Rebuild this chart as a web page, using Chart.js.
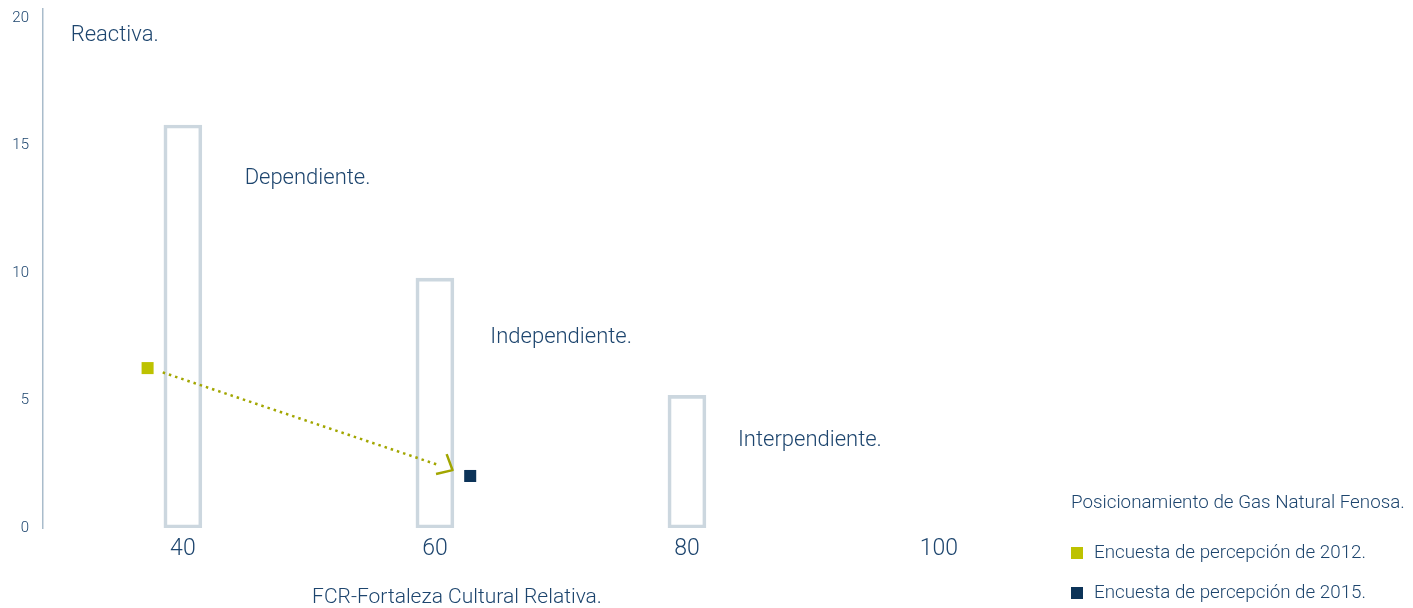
<!DOCTYPE html>
<html><head><meta charset="utf-8">
<script src="https://cdn.jsdelivr.net/npm/chart.js@4.4.0/dist/chart.umd.min.js"></script>
<style>html,body{margin:0;padding:0;background:#fff;} #wrap{width:1413px;height:608px;position:relative;}</style>
</head><body><div id="wrap"><canvas id="c" width="1413" height="608"></canvas></div>
<script>
// ---- data ----
const xTickValues = [40, 60, 80, 100];
const yTickValues = [0, 5, 10, 15, 20];
const barX = [40, 60, 80];
const barHeights = [15.8, 9.8, 5.2];
const survey2012 = [{x: 37.2, y: 6.27}];
const survey2015 = [{x: 62.8, y: 2.04}];
const trendFrom = {x: 38.4, y: 6.1};
const trendTo = {x: 61.4, y: 2.27};
const trendLineEnd = {x: 60.4, y: 2.45};
const zoneLabels = ['Reactiva.', 'Dependiente.', 'Independiente.', 'Interpendiente.'];
const zoneLabelX = [31.1, 44.9, 64.4, 84.05];
const zoneLabelY = [19.33, 13.7, 7.45, 3.45];
const xTitle = 'FCR-Fortaleza Cultural Relativa.';
const legendTitle = 'Posicionamiento de Gas Natural Fenosa.';
const legendLabels = ['Encuesta de percepción de 2012.', 'Encuesta de percepción de 2015.'];

// ---- styles ----
const FONT = 'Roboto';
const TEXT = '#1d456e';
const GREEN = '#bdc200';
const NAVY = '#0c3358';
const OLIVE = '#a2a600';
const BAR = '#ccd7df';
const AXIS = '#a9bccb';

const overlay = {
  id: 'overlay',
  afterDatasetsDraw(chart) {
    const ctx = chart.ctx, xs = chart.scales.x, ys = chart.scales.y;
    const x1 = xs.getPixelForValue(trendFrom.x), y1 = ys.getPixelForValue(trendFrom.y);
    const x2 = xs.getPixelForValue(trendTo.x), y2 = ys.getPixelForValue(trendTo.y);
    const back = Math.atan2(y1 - y2, x1 - x2);
    const len = 17;
    const a1 = back + 51 * Math.PI / 180, a2 = back - 32 * Math.PI / 180;
    ctx.save();
    ctx.strokeStyle = OLIVE; ctx.lineWidth = 2.5; ctx.lineJoin = 'round'; ctx.lineCap = 'butt';
    ctx.beginPath();
    ctx.moveTo(x2 + len * Math.cos(a1), y2 + len * Math.sin(a1));
    ctx.lineTo(x2, y2);
    ctx.lineTo(x2 + len * Math.cos(a2), y2 + len * Math.sin(a2));
    ctx.stroke();
    ctx.restore();
  },
  afterDraw(chart) {
    const ctx = chart.ctx, xs = chart.scales.x, ys = chart.scales.y;
    ctx.save();
    ctx.fillStyle = TEXT;
    ctx.textBaseline = 'middle';
    ctx.textAlign = 'left';
    ctx.font = '300 22px ' + FONT;
    zoneLabels.forEach((t, i) => {
      ctx.fillText(t, xs.getPixelForValue(zoneLabelX[i]), ys.getPixelForValue(zoneLabelY[i]));
    });
    ctx.font = '300 21px ' + FONT;
    ctx.textAlign = 'center';
    ctx.fillText(xTitle, 457, 598);
    ctx.textAlign = 'left';
    ctx.font = '300 18.8px ' + FONT;
    ctx.fillText(legendTitle, 1071, 503);
    const cols = [GREEN, NAVY];
    const ly = [553, 593];
    legendLabels.forEach((t, i) => {
      ctx.fillStyle = cols[i];
      ctx.fillRect(1071, ly[i] - 6, 12, 12);
      ctx.fillStyle = TEXT;
      ctx.fillText(t, 1094, ly[i]);
    });
    ctx.restore();
  }
};

new Chart(document.getElementById('c'), {
  type: 'bar',
  data: {
    datasets: [
      {
        type: 'bar',
        data: barX.map((x, i) => ({x: x, y: barHeights[i]})),
        backgroundColor: 'rgba(0,0,0,0)',
        borderColor: BAR,
        borderWidth: 3,
        borderSkipped: false,
        barThickness: 38,
        order: 3
      },
      {
        type: 'line',
        data: [trendFrom, trendLineEnd],
        borderColor: OLIVE,
        borderWidth: 2.5,
        borderDash: [2.5, 4],
        pointRadius: 0,
        fill: false,
        order: 2
      },
      {
        type: 'scatter',
        data: survey2012,
        pointStyle: 'rect',
        pointRadius: 8.5,
        backgroundColor: GREEN,
        borderWidth: 0,
        order: 1
      },
      {
        type: 'scatter',
        data: survey2015,
        pointStyle: 'rect',
        pointRadius: 8.5,
        backgroundColor: NAVY,
        borderWidth: 0,
        order: 1
      }
    ]
  },
  options: {
    responsive: false,
    animation: false,
    devicePixelRatio: 1,
    events: [],
    layout: {padding: {left: 0, right: 348, top: 9, bottom: 0}},
    plugins: {legend: {display: false}, tooltip: {enabled: false}},
    scales: {
      x: {
        type: 'linear',
        offset: false,
        min: 28.9,
        max: 110,
        grid: {display: false, drawTicks: false, offset: false},
        border: {display: false},
        afterBuildTicks: s => { s.ticks = xTickValues.map(v => ({value: v})); },
        afterFit: s => { s.height = 80; s.paddingLeft = 0; s.paddingRight = 0; },
        ticks: {
          padding: 7,
          color: TEXT,
          font: {family: FONT, size: 23, weight: '300'},
          maxRotation: 0,
          autoSkip: false
        }
      },
      y: {
        type: 'linear',
        min: 0,
        max: 20.35,
        grid: {display: false, drawTicks: false},
        border: {display: true, color: AXIS, width: 1.5},
        afterBuildTicks: s => { s.ticks = yTickValues.map(v => ({value: v})); },
        afterFit: s => { s.width = 43; s.paddingTop = 0; s.paddingBottom = 0; },
        ticks: {
          padding: 14,
          color: TEXT,
          font: {family: FONT, size: 15, weight: '300'}
        }
      }
    }
  },
  plugins: [overlay]
});
</script>
</body></html>
